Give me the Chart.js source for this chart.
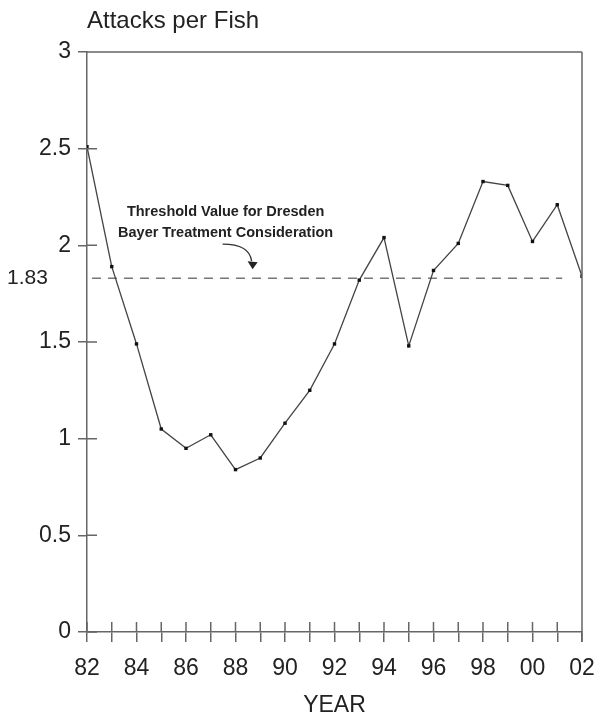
<!DOCTYPE html>
<html>
<head>
<meta charset="utf-8">
<script src="https://cdn.jsdelivr.net/npm/chart.js@4/dist/chart.umd.min.js"></script>
<style>
  html, body { margin: 0; padding: 0; background: #fff; }
  #wrap { width: 596px; height: 717px; }
</style>
</head>
<body>
<div id="wrap"><canvas id="chart" width="596" height="717"></canvas></div>
<script>
// data
const years = [82, 83, 84, 85, 86, 87, 88, 89, 90, 91, 92, 93, 94, 95, 96, 97, 98, 99, 100, 101, 102];
const attacksPerFish = [2.51, 1.89, 1.49, 1.05, 0.95, 1.02, 0.84, 0.90, 1.08, 1.25, 1.49, 1.82, 2.04, 1.48, 1.87, 2.01, 2.33, 2.31, 2.02, 2.21, 1.84];
const thresholdValue = 1.83;
const thresholdSpan = [82.2, 101.2];
const thresholdNote = ['Threshold Value for Dresden', 'Bayer Treatment Consideration'];
const yTicks = [0, 0.5, 1, 1.5, 2, 2.5, 3];

const FONT = "'Liberation Sans', Arial, Helvetica, sans-serif";
const INK = '#222';
const AXIS = '#666';

// tick marks that cross the axes + frame + annotations
const decor = {
  id: 'decor',
  afterDraw(chart) {
    const { ctx, chartArea: a, scales: { x, y } } = chart;
    ctx.save();
    ctx.strokeStyle = AXIS;
    ctx.lineWidth = 1.5;
    ctx.beginPath();
    // top and right frame
    ctx.moveTo(a.left, a.top); ctx.lineTo(a.right, a.top);
    ctx.moveTo(a.right, a.top); ctx.lineTo(a.right, a.bottom + 10);
    // inner half of the ticks
    x.ticks.forEach(t => {
      const px = x.getPixelForValue(t.value);
      ctx.moveTo(px, a.bottom - 10); ctx.lineTo(px, a.bottom);
    });
    y.ticks.forEach(t => {
      const py = y.getPixelForValue(t.value);
      ctx.moveTo(a.left, py); ctx.lineTo(a.left + 10, py);
    });
    ctx.stroke();

    // title above the plot
    ctx.fillStyle = INK;
    ctx.font = '24px ' + FONT;
    ctx.textAlign = 'left';
    ctx.textBaseline = 'alphabetic';
    ctx.fillText('Attacks per Fish', a.left, 28);

    // threshold label at the left
    const ty = y.getPixelForValue(thresholdValue);
    ctx.font = '21px ' + FONT;
    ctx.textBaseline = 'middle';
    ctx.fillText(thresholdValue.toFixed(2), 7, ty);

    // note text
    const cx = x.getPixelForValue(87.6);
    ctx.font = 'bold 14.5px ' + FONT;
    ctx.textAlign = 'center';
    ctx.textBaseline = 'alphabetic';
    ctx.fillText(thresholdNote[0], cx, ty - 62);
    ctx.fillText(thresholdNote[1], cx, ty - 41);

    // curved arrow pointing at the dashed line
    ctx.strokeStyle = '#333';
    ctx.lineWidth = 1.3;
    ctx.beginPath();
    ctx.moveTo(cx - 3, ty - 34);
    ctx.quadraticCurveTo(cx + 24, ty - 34, cx + 26, ty - 17);
    ctx.stroke();
    ctx.fillStyle = '#222';
    ctx.beginPath();
    ctx.moveTo(cx + 22, ty - 17);
    ctx.lineTo(cx + 32, ty - 16);
    ctx.lineTo(cx + 27, ty - 9);
    ctx.closePath();
    ctx.fill();
    ctx.restore();
  }
};

new Chart(document.getElementById('chart'), {
  type: 'line',
  data: {
    datasets: [
      {
        label: 'Attacks per Fish',
        data: years.map((yr, i) => ({ x: yr, y: attacksPerFish[i] })),
        borderColor: '#444',
        borderWidth: 1.3,
        pointStyle: 'rect',
        pointRadius: 2.4,
        pointBackgroundColor: '#111',
        pointBorderWidth: 0,
        tension: 0
      },
      {
        label: 'Threshold',
        data: thresholdSpan.map(v => ({ x: v, y: thresholdValue })),
        borderColor: '#777',
        borderWidth: 1.4,
        borderDash: [9, 7],
        pointRadius: 0
      }
    ]
  },
  options: {
    responsive: false,
    animation: false,
    layout: { padding: { top: 52, right: 14, left: 0, bottom: 0 } },
    plugins: { legend: { display: false }, tooltip: { enabled: false } },
    scales: {
      x: {
        type: 'linear',
        min: 82,
        max: 102,
        afterFit(s) { s.height = 85; s.paddingLeft = 0; s.paddingRight = 0; },
        border: { display: true, color: AXIS, width: 1.5 },
        grid: { drawOnChartArea: false, drawTicks: true, tickLength: 10, color: AXIS, lineWidth: 1.5 },
        ticks: {
          stepSize: 1,
          autoSkip: false,
          maxRotation: 0,
          padding: 13,
          color: INK,
          font: { family: FONT, size: 23 },
          callback: v => (v % 2 === 0 ? String(v % 100).padStart(2, '0') : '')
        },
        title: { display: true, text: 'YEAR', color: INK, font: { family: FONT, size: 23, lineHeight: 1 }, padding: { top: 4, bottom: 0 } }
      },
      y: {
        min: 0,
        max: 3,
        afterFit(s) { s.width = 87; s.paddingTop = 0; s.paddingBottom = 0; },
        afterBuildTicks(s) { s.ticks = yTicks.map(v => ({ value: v })); },
        border: { display: true, color: AXIS, width: 1.5 },
        grid: { drawOnChartArea: false, drawTicks: true, tickLength: 9, color: AXIS, lineWidth: 1.5 },
        ticks: {
          padding: 7,
          color: INK,
          font: { family: FONT, size: 23 },
          callback: v => String(v)
        }
      }
    }
  },
  plugins: [decor]
});
</script>
</body>
</html>
